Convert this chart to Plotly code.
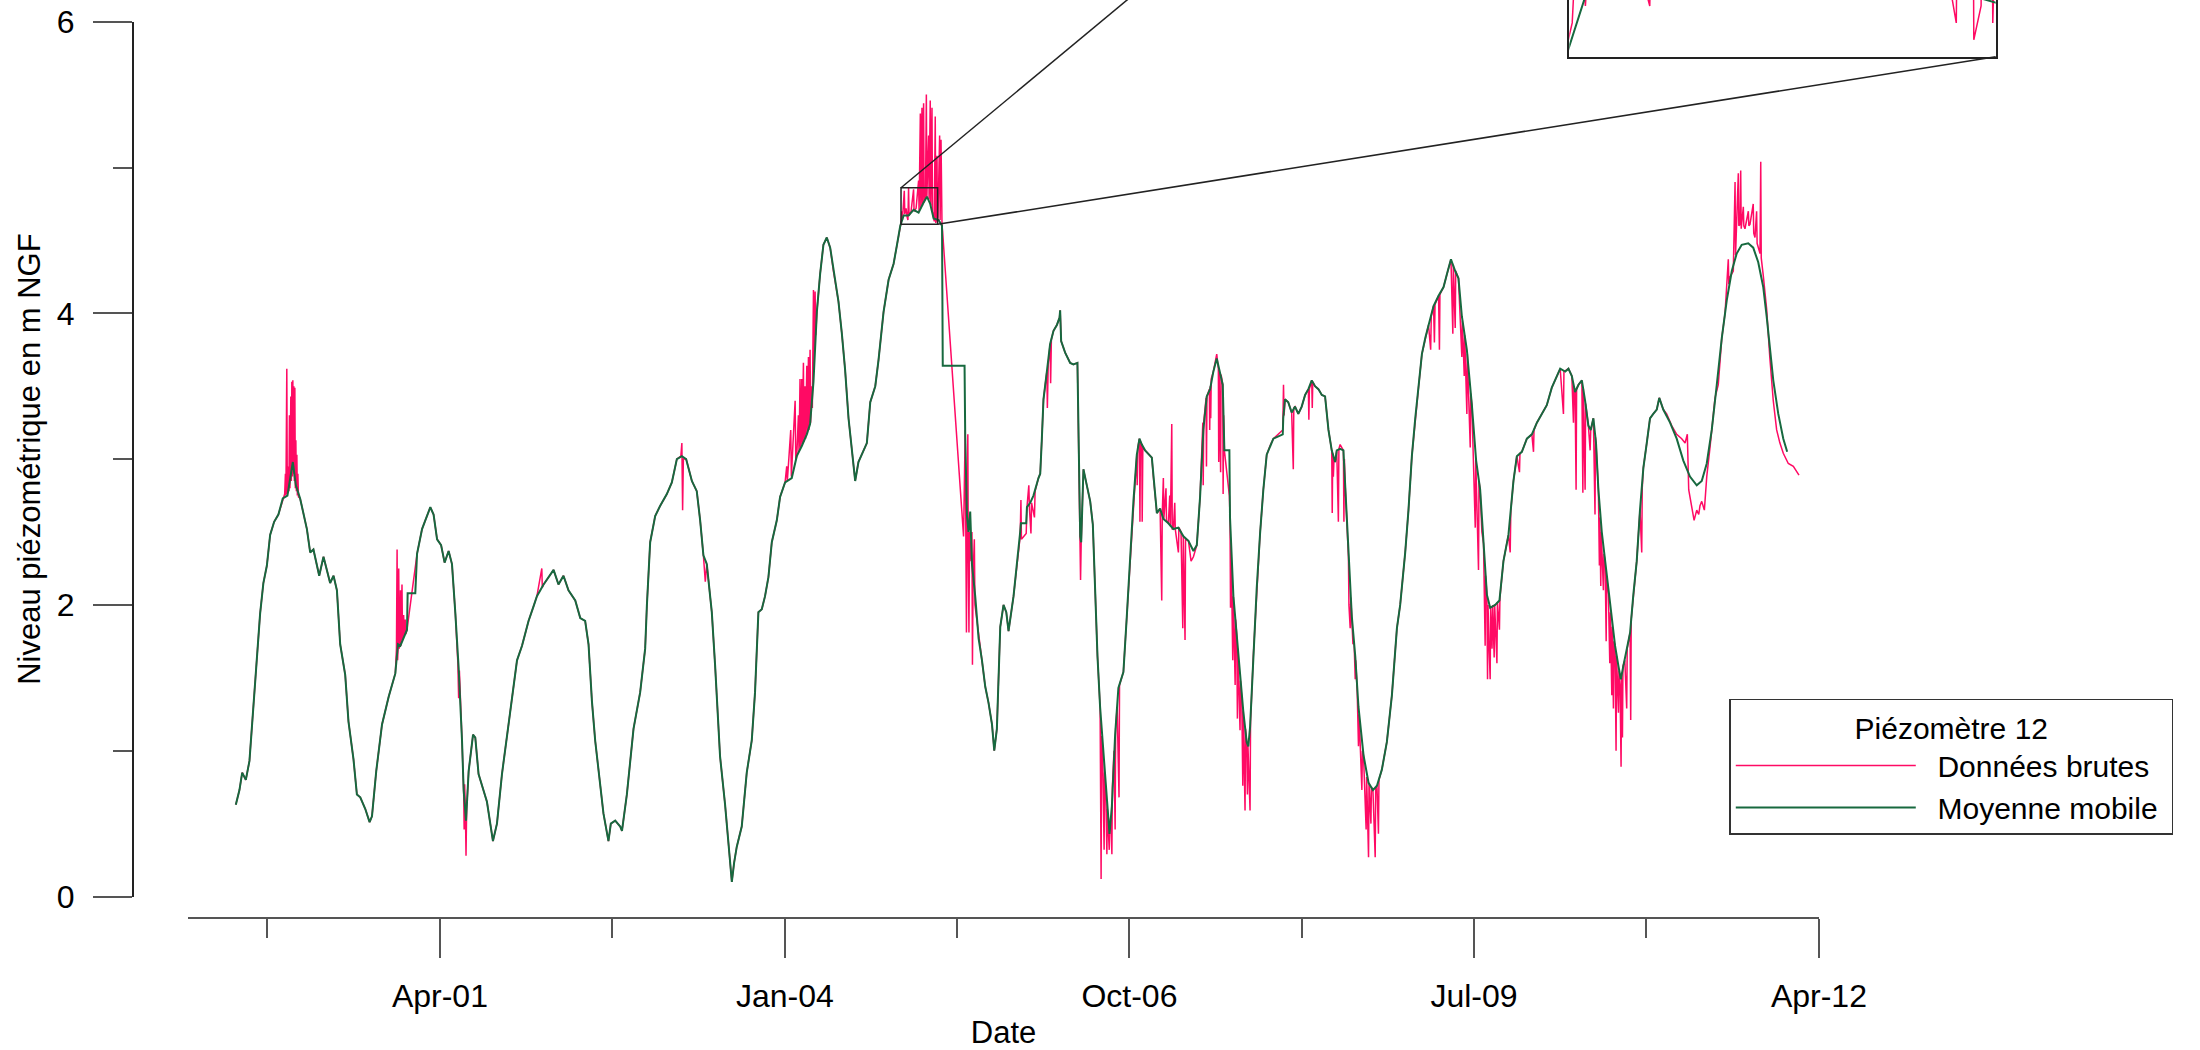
import datetime as dt
import plotly.graph_objects as go

# Piézomètre 12 : niveau de la nappe (m NGF), dates en années décimales
moyenne_mobile = [
    (1999.620, 0.63), (1999.649, 0.73), (1999.671, 0.85), (1999.700, 0.80), (1999.729, 0.93),
    (1999.761, 1.31), (1999.788, 1.60), (1999.814, 1.94), (1999.840, 2.15), (1999.868, 2.27),
    (1999.894, 2.48), (1999.926, 2.57), (1999.960, 2.62), (1999.995, 2.73), (2000.032, 2.75),
    (2000.053, 2.86), (2000.075, 2.98), (2000.099, 2.82), (2000.133, 2.73), (2000.187, 2.52),
    (2000.213, 2.36), (2000.239, 2.38), (2000.285, 2.20), (2000.319, 2.33), (2000.372, 2.15),
    (2000.399, 2.20), (2000.426, 2.10), (2000.452, 1.73), (2000.492, 1.52), (2000.518, 1.20),
    (2000.558, 0.94), (2000.585, 0.70), (2000.612, 0.68), (2000.652, 0.60), (2000.686, 0.51),
    (2000.705, 0.55), (2000.739, 0.86), (2000.785, 1.18), (2000.838, 1.37), (2000.891, 1.53),
    (2000.912, 1.73), (2000.931, 1.72), (2000.984, 1.83), (2000.989, 2.08), (2001.050, 2.08),
    (2001.064, 2.35), (2001.104, 2.52), (2001.130, 2.58), (2001.170, 2.67), (2001.196, 2.62),
    (2001.224, 2.45), (2001.256, 2.41), (2001.284, 2.29), (2001.316, 2.37), (2001.343, 2.28),
    (2001.370, 1.94), (2001.396, 1.57), (2001.423, 1.07), (2001.436, 0.73), (2001.455, 0.52),
    (2001.476, 0.86), (2001.511, 1.11), (2001.529, 1.09), (2001.555, 0.84), (2001.595, 0.73),
    (2001.622, 0.65), (2001.670, 0.38), (2001.702, 0.50), (2001.742, 0.84), (2001.782, 1.10),
    (2001.822, 1.36), (2001.862, 1.62), (2001.902, 1.72), (2001.928, 1.81), (2001.954, 1.89),
    (2001.994, 1.99), (2002.021, 2.06), (2002.074, 2.14), (2002.114, 2.19), (2002.154, 2.24),
    (2002.193, 2.14), (2002.233, 2.20), (2002.273, 2.10), (2002.327, 2.03), (2002.367, 1.91),
    (2002.406, 1.89), (2002.433, 1.73), (2002.460, 1.34), (2002.486, 1.07), (2002.513, 0.86),
    (2002.552, 0.57), (2002.592, 0.38), (2002.611, 0.50), (2002.646, 0.52), (2002.686, 0.48),
    (2002.700, 0.45), (2002.739, 0.70), (2002.792, 1.15), (2002.845, 1.40), (2002.885, 1.70),
    (2002.899, 2.00), (2002.925, 2.43), (2002.965, 2.61), (2003.005, 2.68), (2003.058, 2.76),
    (2003.098, 2.84), (2003.138, 3.00), (2003.178, 3.02), (2003.212, 3.00), (2003.258, 2.85),
    (2003.297, 2.78), (2003.324, 2.58), (2003.350, 2.34), (2003.377, 2.28), (2003.417, 1.95),
    (2003.443, 1.59), (2003.483, 0.96), (2003.523, 0.63), (2003.558, 0.30), (2003.577, 0.10),
    (2003.595, 0.23), (2003.616, 0.34), (2003.656, 0.48), (2003.696, 0.85), (2003.736, 1.07),
    (2003.762, 1.40), (2003.789, 1.95), (2003.816, 1.97), (2003.842, 2.06), (2003.869, 2.19),
    (2003.896, 2.43), (2003.936, 2.58), (2003.962, 2.74), (2004.002, 2.84), (2004.055, 2.87),
    (2004.095, 3.02), (2004.135, 3.09), (2004.175, 3.17), (2004.201, 3.24), (2004.228, 3.53),
    (2004.255, 4.01), (2004.281, 4.27), (2004.307, 4.47), (2004.334, 4.52), (2004.361, 4.45),
    (2004.387, 4.29), (2004.427, 4.08), (2004.454, 3.86), (2004.480, 3.61), (2004.507, 3.28),
    (2004.534, 3.06), (2004.560, 2.85), (2004.586, 2.98), (2004.626, 3.06), (2004.653, 3.11),
    (2004.680, 3.39), (2004.720, 3.50), (2004.746, 3.68), (2004.786, 4.01), (2004.826, 4.23),
    (2004.866, 4.34), (2004.893, 4.47), (2004.919, 4.60), (2004.945, 4.67), (2004.985, 4.67),
    (2005.025, 4.71), (2005.065, 4.69), (2005.105, 4.76), (2005.132, 4.80), (2005.158, 4.75),
    (2005.185, 4.65), (2005.225, 4.64), (2005.252, 4.60), (2005.258, 3.64), (2005.432, 3.64),
    (2005.437, 3.17), (2005.451, 2.61), (2005.464, 2.50), (2005.477, 2.64), (2005.491, 2.28),
    (2005.517, 2.06), (2005.544, 1.77), (2005.571, 1.62), (2005.597, 1.44), (2005.623, 1.33),
    (2005.651, 1.18), (2005.669, 1.00), (2005.690, 1.15), (2005.717, 1.85), (2005.743, 2.00),
    (2005.765, 1.95), (2005.783, 1.82), (2005.823, 2.06), (2005.876, 2.50), (2005.882, 2.56),
    (2005.924, 2.56), (2005.930, 2.67), (2005.956, 2.70), (2005.982, 2.75), (2006.022, 2.87),
    (2006.036, 2.90), (2006.049, 3.14), (2006.062, 3.41), (2006.089, 3.60), (2006.115, 3.79),
    (2006.142, 3.88), (2006.169, 3.92), (2006.190, 3.97), (2006.195, 4.02), (2006.203, 3.81),
    (2006.235, 3.73), (2006.275, 3.66), (2006.301, 3.65), (2006.333, 3.66), (2006.341, 3.14),
    (2006.355, 2.47), (2006.363, 2.43), (2006.381, 2.93), (2006.408, 2.82), (2006.435, 2.71),
    (2006.456, 2.55), (2006.475, 2.06), (2006.493, 1.65), (2006.514, 1.30), (2006.541, 0.97),
    (2006.568, 0.65), (2006.589, 0.43), (2006.608, 0.62), (2006.634, 1.11), (2006.660, 1.43),
    (2006.700, 1.54), (2006.727, 1.92), (2006.754, 2.33), (2006.780, 2.71), (2006.807, 3.03),
    (2006.828, 3.14), (2006.847, 3.10), (2006.873, 3.06), (2006.927, 3.01), (2006.940, 2.87),
    (2006.967, 2.63), (2006.993, 2.66), (2007.019, 2.59), (2007.059, 2.56), (2007.099, 2.52),
    (2007.139, 2.53), (2007.179, 2.47), (2007.219, 2.44), (2007.259, 2.37), (2007.286, 2.41),
    (2007.312, 2.74), (2007.338, 3.20), (2007.365, 3.43), (2007.392, 3.48), (2007.418, 3.60),
    (2007.445, 3.69), (2007.471, 3.60), (2007.493, 3.51), (2007.506, 3.06), (2007.546, 3.06),
    (2007.551, 2.60), (2007.578, 2.06), (2007.605, 1.79), (2007.631, 1.52), (2007.657, 1.27),
    (2007.684, 1.06), (2007.697, 1.03), (2007.711, 1.16), (2007.737, 1.65), (2007.764, 2.11),
    (2007.791, 2.49), (2007.817, 2.79), (2007.844, 3.03), (2007.870, 3.09), (2007.897, 3.14),
    (2007.972, 3.17), (2007.976, 3.28), (2007.990, 3.41), (2008.016, 3.39), (2008.043, 3.32),
    (2008.070, 3.36), (2008.096, 3.31), (2008.123, 3.36), (2008.150, 3.44), (2008.176, 3.48),
    (2008.203, 3.54), (2008.229, 3.50), (2008.256, 3.48), (2008.283, 3.44), (2008.309, 3.43),
    (2008.336, 3.20), (2008.362, 3.06), (2008.389, 2.98), (2008.402, 3.06), (2008.429, 3.07),
    (2008.455, 3.06), (2008.469, 2.82), (2008.495, 2.33), (2008.522, 1.92), (2008.549, 1.65),
    (2008.575, 1.30), (2008.615, 0.97), (2008.655, 0.78), (2008.690, 0.73), (2008.722, 0.76),
    (2008.761, 0.87), (2008.801, 1.06), (2008.841, 1.38), (2008.881, 1.84), (2008.907, 2.00),
    (2008.947, 2.36), (2008.973, 2.65), (2009.000, 3.02), (2009.027, 3.28), (2009.053, 3.49),
    (2009.080, 3.72), (2009.107, 3.83), (2009.133, 3.92), (2009.173, 4.05), (2009.213, 4.12),
    (2009.253, 4.18), (2009.280, 4.27), (2009.312, 4.37), (2009.346, 4.29), (2009.372, 4.24),
    (2009.399, 3.98), (2009.439, 3.75), (2009.479, 3.37), (2009.513, 2.99), (2009.545, 2.79),
    (2009.572, 2.42), (2009.599, 2.07), (2009.625, 1.98), (2009.665, 2.00), (2009.699, 2.03),
    (2009.731, 2.30), (2009.771, 2.48), (2009.811, 2.85), (2009.838, 3.02), (2009.878, 3.05),
    (2009.918, 3.14), (2009.958, 3.17), (2009.998, 3.25), (2010.038, 3.31), (2010.077, 3.37),
    (2010.117, 3.49), (2010.157, 3.57), (2010.184, 3.62), (2010.224, 3.60), (2010.250, 3.62),
    (2010.277, 3.57), (2010.303, 3.46), (2010.330, 3.51), (2010.357, 3.54), (2010.383, 3.40),
    (2010.409, 3.23), (2010.428, 3.20), (2010.449, 3.28), (2010.470, 3.11), (2010.489, 2.79),
    (2010.516, 2.50), (2010.543, 2.30), (2010.569, 2.07), (2010.596, 1.87), (2010.622, 1.72),
    (2010.649, 1.58), (2010.668, 1.49), (2010.688, 1.58), (2010.715, 1.70), (2010.742, 1.81),
    (2010.768, 2.07), (2010.795, 2.30), (2010.821, 2.65), (2010.848, 2.94), (2010.875, 3.11),
    (2010.901, 3.28), (2010.927, 3.31), (2010.955, 3.34), (2010.975, 3.42), (2011.007, 3.34),
    (2011.061, 3.25), (2011.114, 3.14), (2011.167, 2.99), (2011.220, 2.88), (2011.274, 2.82),
    (2011.314, 2.85), (2011.354, 2.97), (2011.394, 3.20), (2011.434, 3.51), (2011.474, 3.83),
    (2011.514, 4.09), (2011.554, 4.29), (2011.593, 4.41), (2011.633, 4.47), (2011.685, 4.48),
    (2011.725, 4.45), (2011.765, 4.35), (2011.805, 4.18), (2011.832, 3.98), (2011.858, 3.75),
    (2011.885, 3.54), (2011.925, 3.31), (2011.965, 3.14), (2011.996, 3.05),
]

donnees_brutes = [
    (1999.620, 0.63), (1999.649, 0.73), (1999.671, 0.85), (1999.700, 0.80), (1999.729, 0.93),
    (1999.761, 1.31), (1999.788, 1.60), (1999.814, 1.94), (1999.840, 2.15), (1999.868, 2.27),
    (1999.894, 2.48), (1999.926, 2.57), (1999.960, 2.62), (1999.995, 2.73),
    (2000.010, 2.76), (2000.016, 2.90), (2000.020, 2.75), (2000.027, 3.62), (2000.031, 2.76),
    (2000.040, 2.95), (2000.044, 2.78), (2000.048, 3.30), (2000.052, 2.80), (2000.059, 3.43),
    (2000.063, 2.85), (2000.067, 3.53), (2000.071, 2.88), (2000.075, 3.54), (2000.079, 2.90),
    (2000.083, 3.50), (2000.087, 2.85), (2000.091, 3.49), (2000.095, 2.80), (2000.099, 3.13),
    (2000.103, 2.78), (2000.107, 3.03), (2000.111, 2.75), (2000.115, 2.90), (2000.120, 2.74),
    (2000.133, 2.73), (2000.187, 2.52), (2000.213, 2.36), (2000.239, 2.38), (2000.285, 2.20),
    (2000.319, 2.33), (2000.372, 2.15), (2000.399, 2.20), (2000.426, 2.10), (2000.452, 1.73),
    (2000.492, 1.52), (2000.518, 1.20), (2000.558, 0.94), (2000.585, 0.70), (2000.612, 0.68),
    (2000.652, 0.60), (2000.686, 0.51), (2000.705, 0.55), (2000.739, 0.86), (2000.785, 1.18),
    (2000.838, 1.37), (2000.891, 1.53),
    (2000.900, 1.70), (2000.905, 2.38), (2000.909, 1.62), (2000.915, 1.75), (2000.918, 2.25),
    (2000.922, 1.70), (2000.928, 1.76), (2000.932, 2.10), (2000.936, 1.72), (2000.944, 2.14),
    (2000.948, 1.76), (2000.957, 1.93), (2000.962, 1.78), (2000.970, 1.90), (2000.975, 1.80),
    (2000.984, 1.83), (2001.064, 2.35),
    (2001.104, 2.52), (2001.130, 2.58), (2001.170, 2.67), (2001.196, 2.62), (2001.224, 2.45),
    (2001.256, 2.41), (2001.284, 2.29), (2001.316, 2.37), (2001.343, 2.28), (2001.370, 1.94),
    (2001.390, 1.60), (2001.396, 1.36), (2001.402, 1.55), (2001.423, 1.07), (2001.436, 0.73),
    (2001.440, 0.46), (2001.444, 0.77), (2001.450, 0.60), (2001.455, 0.28), (2001.460, 0.60),
    (2001.476, 0.86), (2001.511, 1.11), (2001.529, 1.09), (2001.555, 0.84), (2001.595, 0.73),
    (2001.622, 0.65), (2001.670, 0.38), (2001.702, 0.50), (2001.742, 0.84), (2001.782, 1.10),
    (2001.822, 1.36), (2001.862, 1.62), (2001.902, 1.72), (2001.928, 1.81), (2001.954, 1.89),
    (2001.994, 1.99), (2002.021, 2.06), (2002.060, 2.25), (2002.064, 2.12), (2002.074, 2.14),
    (2002.114, 2.19), (2002.154, 2.24), (2002.193, 2.14), (2002.233, 2.20), (2002.273, 2.10),
    (2002.327, 2.03), (2002.367, 1.91), (2002.406, 1.89), (2002.433, 1.73), (2002.460, 1.34),
    (2002.486, 1.07), (2002.513, 0.86), (2002.552, 0.57), (2002.592, 0.38), (2002.611, 0.50),
    (2002.646, 0.52), (2002.686, 0.48), (2002.700, 0.45), (2002.739, 0.70), (2002.792, 1.15),
    (2002.845, 1.40), (2002.885, 1.70), (2002.899, 2.00), (2002.925, 2.43), (2002.965, 2.61),
    (2003.005, 2.68), (2003.058, 2.76), (2003.098, 2.84), (2003.138, 3.00), (2003.170, 3.02),
    (2003.178, 3.11), (2003.184, 2.65), (2003.190, 3.00), (2003.212, 3.00), (2003.258, 2.85),
    (2003.297, 2.78), (2003.324, 2.58), (2003.350, 2.34), (2003.365, 2.16), (2003.377, 2.28),
    (2003.417, 1.95), (2003.443, 1.59), (2003.483, 0.96), (2003.523, 0.63), (2003.558, 0.30),
    (2003.577, 0.10), (2003.595, 0.23), (2003.616, 0.34), (2003.656, 0.48), (2003.696, 0.85),
    (2003.736, 1.07), (2003.762, 1.40), (2003.789, 1.95), (2003.816, 1.97), (2003.842, 2.06),
    (2003.869, 2.19), (2003.896, 2.43), (2003.936, 2.58), (2003.962, 2.74), (2004.002, 2.84),
    (2004.015, 2.95), (2004.020, 2.85), (2004.047, 3.20), (2004.052, 2.88), (2004.082, 3.40),
    (2004.087, 3.00), (2004.095, 3.02), (2004.108, 3.30), (2004.113, 3.05), (2004.121, 3.55),
    (2004.126, 3.08), (2004.135, 3.55), (2004.139, 3.10), (2004.148, 3.66), (2004.152, 3.12),
    (2004.161, 3.50), (2004.165, 3.14), (2004.175, 3.64), (2004.179, 3.17), (2004.188, 3.70),
    (2004.192, 3.20), (2004.201, 3.75), (2004.205, 3.25), (2004.215, 3.50), (2004.219, 3.35),
    (2004.228, 4.16), (2004.232, 3.60), (2004.241, 4.15), (2004.246, 3.85), (2004.255, 4.01),
    (2004.281, 4.27), (2004.307, 4.47), (2004.334, 4.52), (2004.361, 4.45), (2004.387, 4.29),
    (2004.427, 4.08), (2004.454, 3.86), (2004.480, 3.61), (2004.507, 3.28), (2004.534, 3.06),
    (2004.560, 2.85), (2004.586, 2.98), (2004.626, 3.06), (2004.653, 3.11), (2004.680, 3.39),
    (2004.720, 3.50), (2004.746, 3.68), (2004.786, 4.01), (2004.826, 4.23), (2004.866, 4.34),
    (2004.893, 4.47), (2004.919, 4.60),
    (2004.927, 4.63), (2004.931, 4.70), (2004.936, 4.64), (2004.942, 4.72), (2004.951, 4.84),
    (2004.955, 4.68), (2004.965, 4.72), (2004.974, 4.66), (2004.980, 4.64), (2004.985, 4.86),
    (2004.989, 4.67), (2005.005, 4.70), (2005.025, 4.85), (2005.029, 4.70), (2005.045, 4.72),
    (2005.065, 4.91), (2005.069, 4.70), (2005.079, 5.37), (2005.083, 4.72), (2005.092, 5.41),
    (2005.096, 4.74), (2005.105, 5.44), (2005.109, 4.76), (2005.120, 4.80), (2005.127, 5.50),
    (2005.131, 4.80), (2005.145, 5.22), (2005.149, 4.78), (2005.158, 5.46), (2005.162, 4.74),
    (2005.172, 5.41), (2005.176, 4.70), (2005.186, 4.65), (2005.190, 4.63), (2005.198, 5.35),
    (2005.202, 4.62), (2005.207, 4.64), (2005.212, 5.08), (2005.215, 4.63), (2005.220, 4.66),
    (2005.233, 5.22), (2005.237, 4.64), (2005.244, 5.19), (2005.248, 4.62), (2005.252, 4.60),
    (2005.256, 4.57),
    (2005.424, 2.47), (2005.437, 3.20), (2005.441, 2.40), (2005.447, 1.81), (2005.452, 2.60),
    (2005.458, 3.17), (2005.462, 2.30), (2005.467, 1.81), (2005.472, 2.50), (2005.484, 2.30),
    (2005.491, 2.50), (2005.495, 1.59), (2005.500, 2.20), (2005.510, 2.45), (2005.515, 2.00),
    (2005.530, 1.90), (2005.544, 1.77), (2005.571, 1.62), (2005.597, 1.44), (2005.623, 1.33),
    (2005.651, 1.18), (2005.669, 1.00), (2005.690, 1.15), (2005.717, 1.85), (2005.743, 2.00),
    (2005.765, 1.95), (2005.783, 1.82), (2005.823, 2.06), (2005.876, 2.47),
    (2005.882, 2.72), (2005.886, 2.45), (2005.924, 2.49), (2005.930, 2.67), (2005.945, 2.82),
    (2005.950, 2.66), (2005.962, 2.49), (2005.967, 2.70), (2005.990, 2.60), (2005.995, 2.78),
    (2006.022, 2.87), (2006.036, 2.90), (2006.049, 3.14), (2006.062, 3.41), (2006.089, 3.60),
    (2006.093, 3.35), (2006.100, 3.65), (2006.115, 3.79), (2006.119, 3.52), (2006.125, 3.82),
    (2006.142, 3.88), (2006.169, 3.92), (2006.190, 3.97), (2006.195, 4.02), (2006.203, 3.81),
    (2006.235, 3.73), (2006.275, 3.66), (2006.301, 3.65), (2006.333, 3.66), (2006.341, 3.14),
    (2006.355, 2.47), (2006.358, 2.17), (2006.363, 2.43), (2006.381, 2.93), (2006.408, 2.82),
    (2006.435, 2.71), (2006.456, 2.55), (2006.475, 2.06), (2006.493, 1.65), (2006.514, 1.30),
    (2006.522, 0.12), (2006.526, 1.10), (2006.535, 0.95), (2006.546, 0.32), (2006.550, 0.85),
    (2006.560, 0.70), (2006.568, 0.29), (2006.572, 0.60), (2006.580, 0.45), (2006.587, 0.32),
    (2006.591, 0.50), (2006.600, 0.55), (2006.608, 0.29), (2006.612, 0.75), (2006.625, 1.00),
    (2006.634, 0.46), (2006.638, 1.15), (2006.650, 1.30), (2006.665, 0.68), (2006.669, 1.45),
    (2006.700, 1.54), (2006.727, 1.92), (2006.754, 2.33), (2006.780, 2.71), (2006.807, 3.03),
    (2006.810, 2.82), (2006.815, 3.08), (2006.828, 3.14), (2006.832, 2.57), (2006.836, 3.12),
    (2006.847, 3.10), (2006.850, 2.57), (2006.855, 3.08), (2006.873, 3.06), (2006.927, 3.01),
    (2006.940, 2.87), (2006.967, 2.63), (2006.993, 2.66), (2007.006, 2.03), (2007.010, 2.62),
    (2007.019, 2.87), (2007.023, 2.59), (2007.040, 2.80), (2007.044, 2.58), (2007.059, 2.56),
    (2007.070, 2.75), (2007.075, 2.54), (2007.086, 3.24), (2007.090, 2.52), (2007.099, 2.52),
    (2007.110, 2.70), (2007.114, 2.52), (2007.139, 2.36), (2007.143, 2.53), (2007.160, 2.50),
    (2007.174, 1.84), (2007.178, 2.47), (2007.192, 1.76), (2007.196, 2.45), (2007.219, 2.44),
    (2007.240, 2.30), (2007.259, 2.33), (2007.286, 2.41), (2007.312, 2.74), (2007.334, 3.25),
    (2007.337, 2.82), (2007.341, 3.25), (2007.360, 3.42), (2007.363, 2.95), (2007.367, 3.43),
    (2007.386, 3.48), (2007.389, 3.20), (2007.393, 3.50), (2007.397, 3.28), (2007.401, 3.55),
    (2007.418, 3.60), (2007.445, 3.72), (2007.458, 3.62), (2007.461, 2.98), (2007.465, 3.60),
    (2007.476, 2.91), (2007.480, 3.58), (2007.493, 3.51), (2007.496, 2.76), (2007.500, 3.30),
    (2007.506, 3.06), (2007.520, 2.95), (2007.546, 2.75),
    (2007.551, 2.60), (2007.555, 1.98), (2007.560, 2.40), (2007.573, 1.62), (2007.578, 2.06),
    (2007.592, 1.45), (2007.596, 1.90), (2007.605, 1.79), (2007.610, 1.22), (2007.614, 1.70),
    (2007.631, 1.14), (2007.635, 1.48), (2007.645, 1.35), (2007.653, 0.76), (2007.657, 1.27),
    (2007.671, 0.59), (2007.675, 1.15), (2007.684, 1.06), (2007.690, 0.70), (2007.694, 1.04),
    (2007.711, 0.59), (2007.715, 1.20), (2007.737, 1.65), (2007.764, 2.11), (2007.791, 2.49),
    (2007.817, 2.79), (2007.844, 3.03), (2007.870, 3.09), (2007.897, 3.14), (2007.972, 3.20),
    (2007.978, 3.51), (2007.983, 3.30), (2007.990, 3.41), (2008.016, 3.39), (2008.043, 3.32),
    (2008.056, 2.93), (2008.060, 3.35), (2008.070, 3.36), (2008.096, 3.31), (2008.123, 3.36),
    (2008.150, 3.44), (2008.176, 3.48), (2008.180, 3.27), (2008.184, 3.48), (2008.203, 3.54),
    (2008.207, 3.35), (2008.211, 3.53), (2008.229, 3.50), (2008.256, 3.48), (2008.283, 3.44),
    (2008.309, 3.43), (2008.336, 3.20), (2008.362, 3.06), (2008.366, 2.63), (2008.370, 3.04),
    (2008.375, 2.88), (2008.380, 3.00), (2008.389, 2.98), (2008.402, 3.06), (2008.415, 2.57),
    (2008.419, 3.07), (2008.429, 3.10), (2008.455, 3.06), (2008.459, 2.57), (2008.463, 3.00),
    (2008.469, 2.82), (2008.495, 2.33), (2008.499, 2.00), (2008.509, 1.84), (2008.514, 2.05),
    (2008.522, 1.92), (2008.531, 1.73), (2008.540, 1.75), (2008.549, 1.49), (2008.553, 1.62),
    (2008.565, 1.40), (2008.575, 1.03), (2008.580, 1.25), (2008.602, 0.73), (2008.606, 1.00),
    (2008.615, 0.97), (2008.636, 0.46), (2008.640, 0.82), (2008.655, 0.27), (2008.659, 0.78),
    (2008.674, 0.50), (2008.678, 0.75), (2008.690, 0.73), (2008.708, 0.27), (2008.712, 0.74),
    (2008.722, 0.76), (2008.734, 0.43), (2008.738, 0.80), (2008.761, 0.87), (2008.801, 1.06),
    (2008.841, 1.38), (2008.881, 1.84), (2008.907, 2.00), (2008.947, 2.36), (2008.973, 2.65),
    (2009.000, 3.02), (2009.027, 3.28), (2009.053, 3.49), (2009.080, 3.72), (2009.107, 3.83),
    (2009.133, 3.92), (2009.150, 3.75), (2009.155, 3.98), (2009.173, 4.05), (2009.180, 3.80),
    (2009.185, 4.06), (2009.213, 4.12), (2009.220, 3.75), (2009.224, 4.13), (2009.253, 4.18),
    (2009.280, 4.27), (2009.312, 4.37), (2009.327, 3.86), (2009.331, 4.33), (2009.346, 3.90),
    (2009.350, 4.29), (2009.372, 4.24), (2009.399, 3.70), (2009.403, 3.95), (2009.418, 3.57),
    (2009.422, 3.85), (2009.439, 3.31), (2009.443, 3.72), (2009.466, 3.08), (2009.470, 3.45),
    (2009.479, 3.37), (2009.506, 2.53), (2009.510, 3.00), (2009.532, 2.24), (2009.536, 2.85),
    (2009.545, 2.79), (2009.559, 2.50), (2009.572, 2.42), (2009.585, 1.72), (2009.589, 2.20),
    (2009.599, 2.07), (2009.604, 1.49), (2009.608, 2.00), (2009.615, 1.75), (2009.625, 1.49),
    (2009.629, 1.98), (2009.640, 1.70), (2009.645, 2.00), (2009.657, 1.64), (2009.661, 2.00),
    (2009.679, 1.60), (2009.683, 2.02), (2009.699, 1.83), (2009.703, 2.05), (2009.731, 2.30),
    (2009.771, 2.48), (2009.785, 2.36), (2009.790, 2.65), (2009.811, 2.85), (2009.838, 3.02),
    (2009.859, 2.91), (2009.863, 3.04), (2009.878, 3.05), (2009.918, 3.14), (2009.958, 3.17),
    (2009.971, 3.05), (2009.975, 3.20), (2009.998, 3.25), (2010.038, 3.31), (2010.077, 3.37),
    (2010.117, 3.49), (2010.157, 3.57), (2010.184, 3.62), (2010.210, 3.31), (2010.214, 3.60),
    (2010.250, 3.62), (2010.277, 3.57), (2010.290, 3.25), (2010.294, 3.50), (2010.303, 3.46),
    (2010.311, 2.79), (2010.315, 3.48), (2010.330, 3.51), (2010.357, 3.54), (2010.365, 2.77),
    (2010.369, 3.48), (2010.383, 2.79), (2010.387, 3.38), (2010.409, 3.23), (2010.423, 3.06),
    (2010.428, 3.20), (2010.449, 3.28), (2010.462, 2.62), (2010.466, 3.15), (2010.470, 3.11),
    (2010.489, 2.79), (2010.497, 2.27), (2010.501, 2.60), (2010.508, 2.13), (2010.512, 2.50),
    (2010.529, 2.10), (2010.533, 2.35), (2010.543, 2.30), (2010.551, 1.75), (2010.555, 2.20),
    (2010.569, 2.07), (2010.580, 1.60), (2010.585, 1.95), (2010.596, 1.38), (2010.600, 1.85),
    (2010.609, 1.29), (2010.613, 1.75), (2010.622, 1.72), (2010.630, 1.00), (2010.634, 1.65),
    (2010.649, 1.26), (2010.653, 1.55), (2010.662, 1.45), (2010.670, 0.89), (2010.674, 1.50),
    (2010.681, 1.09), (2010.685, 1.58), (2010.700, 1.62), (2010.715, 1.29), (2010.719, 1.70),
    (2010.742, 1.81), (2010.747, 1.21), (2010.751, 1.90), (2010.768, 2.07), (2010.795, 2.30),
    (2010.821, 2.65), (2010.835, 2.36), (2010.839, 2.80), (2010.848, 2.94), (2010.875, 3.11),
    (2010.901, 3.28), (2010.927, 3.31), (2010.955, 3.34), (2010.975, 3.42), (2011.007, 3.34),
    (2011.034, 3.31), (2011.074, 3.23), (2011.114, 3.17), (2011.154, 3.14), (2011.181, 3.11),
    (2011.199, 3.17), (2011.210, 2.79), (2011.226, 2.71), (2011.253, 2.58), (2011.274, 2.65),
    (2011.290, 2.62), (2011.300, 2.68), (2011.314, 2.71), (2011.335, 2.65), (2011.354, 2.88),
    (2011.380, 3.08), (2011.406, 3.34), (2011.420, 3.42), (2011.446, 3.51), (2011.474, 3.83),
    (2011.500, 4.00), (2011.514, 4.18), (2011.526, 4.37), (2011.530, 4.20), (2011.540, 4.25),
    (2011.566, 4.29), (2011.580, 4.90), (2011.584, 4.40), (2011.594, 4.67), (2011.606, 4.96),
    (2011.610, 4.60), (2011.620, 4.61), (2011.625, 4.98), (2011.629, 4.58), (2011.646, 4.73),
    (2011.650, 4.60), (2011.659, 4.58), (2011.686, 4.70), (2011.690, 4.60), (2011.699, 4.61),
    (2011.725, 4.75), (2011.729, 4.55), (2011.739, 4.52), (2011.752, 4.70), (2011.756, 4.48),
    (2011.779, 4.41), (2011.785, 5.04), (2011.789, 4.38), (2011.805, 4.26), (2011.832, 4.03),
    (2011.858, 3.69), (2011.885, 3.40), (2011.912, 3.20), (2011.938, 3.11), (2011.965, 3.04),
    (2012.005, 2.97), (2012.045, 2.95), (2012.072, 2.91), (2012.090, 2.89),
]

# Graduations de l'axe des dates
dates_graduations = ["2001-04-01", "2004-01-01", "2006-10-01", "2009-07-01", "2012-04-01"]
etiquettes_dates = ["Apr-01", "Jan-04", "Oct-06", "Jul-09", "Apr-12"]
dates_graduations_secondaires = ["1999-11-15", "2002-08-16", "2005-05-17", "2008-02-15", "2010-11-15"]
graduations_niveau = [0, 2, 4, 6]
graduations_niveau_secondaires = [1, 3, 5]

# Fenêtre agrandie dans l'encart (années décimales, m NGF)
fenetre_annees = (2004.925, 2005.217)
fenetre_niveaux = (4.610, 4.861)

ROSE = "#FF0A64"
VERT = "#17693F"
POLICE = "Liberation Sans, Arial, sans-serif"
NBSP = "\u00a0"


def vers_date(annee):
    a = int(annee)
    debut = dt.datetime(a, 1, 1)
    duree = dt.datetime(a + 1, 1, 1) - debut
    return debut + (annee - a) * duree


x_brut = [vers_date(a) for a, _ in donnees_brutes]
y_brut = [v for _, v in donnees_brutes]
x_mm = [vers_date(a) for a, _ in moyenne_mobile]
y_mm = [v for _, v in moyenne_mobile]

# Géométrie des axes (fractions de la zone de tracé)
dom_x = [0.02946, 0.90305]
dom_y = [0.02342, 0.97636]
plage_x = [dt.datetime(1999, 3, 29), dt.datetime(2012, 4, 1, 6)]
plage_y = [0, 6]

dom_x2 = [0.7693, 0.99769]
dom_y2 = [0.93824, 1.0]
f0, f1 = vers_date(fenetre_annees[0]), vers_date(fenetre_annees[1])
n0, n1 = fenetre_niveaux
# l'encart est agrandi d'un même facteur dans les deux sens ; seule sa base est visible
plage_y2 = [n0, n0 + (n1 - n0) * (dom_y2[1] - dom_y2[0]) / 0.4619]

fig = go.Figure()
fig.add_trace(go.Scatter(x=x_brut, y=y_brut, mode="lines", name=NBSP * 2 + "Données brutes",
                         line=dict(color=ROSE, width=1.5), xaxis="x", yaxis="y"))
fig.add_trace(go.Scatter(x=x_mm, y=y_mm, mode="lines", name=NBSP * 2 + "Moyenne mobile" + NBSP,
                         line=dict(color=VERT, width=2), xaxis="x", yaxis="y"))
# Encart : agrandissement de l'hiver 2004-2005
fig.add_trace(go.Scatter(x=x_brut, y=y_brut, mode="lines", showlegend=False,
                         line=dict(color=ROSE, width=1.5), xaxis="x2", yaxis="y2"))
fig.add_trace(go.Scatter(x=x_mm, y=y_mm, mode="lines", showlegend=False,
                         line=dict(color=VERT, width=2), xaxis="x2", yaxis="y2"))


def papier_x(date, dom, plage):
    return dom[0] + (date - plage[0]) / (plage[1] - plage[0]) * (dom[1] - dom[0])


def papier_y(v, dom, plage):
    return dom[0] + (v - plage[0]) / (plage[1] - plage[0]) * (dom[1] - dom[0])


cadre = dict(color="#222222", width=1.5)
formes = [
    dict(type="rect", xref="x", yref="y", x0=f0, x1=f1, y0=n0, y1=n1, line=cadre),
    dict(type="line", xref="paper", yref="paper",
         x0=papier_x(f0, dom_x, plage_x), y0=papier_y(n1, dom_y, plage_y),
         x1=dom_x2[0], y1=papier_y(n1, dom_y2, plage_y2), line=cadre),
    dict(type="line", xref="paper", yref="paper",
         x0=papier_x(f1, dom_x, plage_x), y0=papier_y(n0, dom_y, plage_y),
         x1=dom_x2[1], y1=dom_y2[0], line=cadre),
]

fig.update_layout(
    width=2200, height=1050,
    margin=dict(l=133, r=200, t=0, b=132, autoexpand=False),
    paper_bgcolor="white", plot_bgcolor="white",
    font=dict(family=POLICE, size=30, color="black"),
    shapes=formes,
    xaxis=dict(
        type="date", domain=dom_x, range=plage_x, anchor="free", position=0,
        automargin=False,
        showgrid=False, zeroline=False, showline=True, linecolor="#555555", linewidth=2,
        tickmode="array", tickvals=dates_graduations, ticktext=etiquettes_dates,
        ticks="outside", ticklen=39, tickwidth=1.5, tickcolor="#555555",
        ticklabelstandoff=11, tickfont=dict(size=32),
        minor=dict(tickmode="array", tickvals=dates_graduations_secondaires,
                   ticks="outside", ticklen=19, tickwidth=1.5, tickcolor="#555555",
                   showgrid=False),
        title=dict(text="Date", font=dict(size=31), standoff=9),
    ),
    yaxis=dict(
        domain=dom_y, range=plage_y, anchor="free", position=0,
        automargin=False,
        showgrid=False, zeroline=False, showline=True, linecolor="#222222", linewidth=2,
        tickmode="array", tickvals=graduations_niveau,
        ticks="outside", ticklen=39, tickwidth=1.5, tickcolor="#555555",
        ticklabelstandoff=12, tickfont=dict(size=32),
        minor=dict(tickmode="array", tickvals=graduations_niveau_secondaires,
                   ticks="outside", ticklen=19, tickwidth=1.5, tickcolor="#555555",
                   showgrid=False),
        title=dict(text="Niveau piézométrique en m NGF", font=dict(size=31), standoff=6),
    ),
    xaxis2=dict(
        type="date", domain=dom_x2, range=[f0, f1], anchor="y2", automargin=False,
        showgrid=False, zeroline=False, showticklabels=False, ticks="",
        showline=True, linecolor="#222222", linewidth=2,
    ),
    yaxis2=dict(
        domain=dom_y2, range=plage_y2, anchor="x2", automargin=False,
        showgrid=False, zeroline=False, showticklabels=False, ticks="",
        showline=True, mirror=True, linecolor="#222222", linewidth=1.5,
    ),
    legend=dict(
        x=0.855, y=0.2386, xanchor="left", yanchor="top",
        bgcolor="white", bordercolor="#333333", borderwidth=1.5,
        font=dict(size=30), itemwidth=180, tracegroupgap=0,
        title=dict(text="Piézomètre 12", side="top center", font=dict(size=30)),
    ),
    showlegend=True,
)

fig.write_html("out.html")
